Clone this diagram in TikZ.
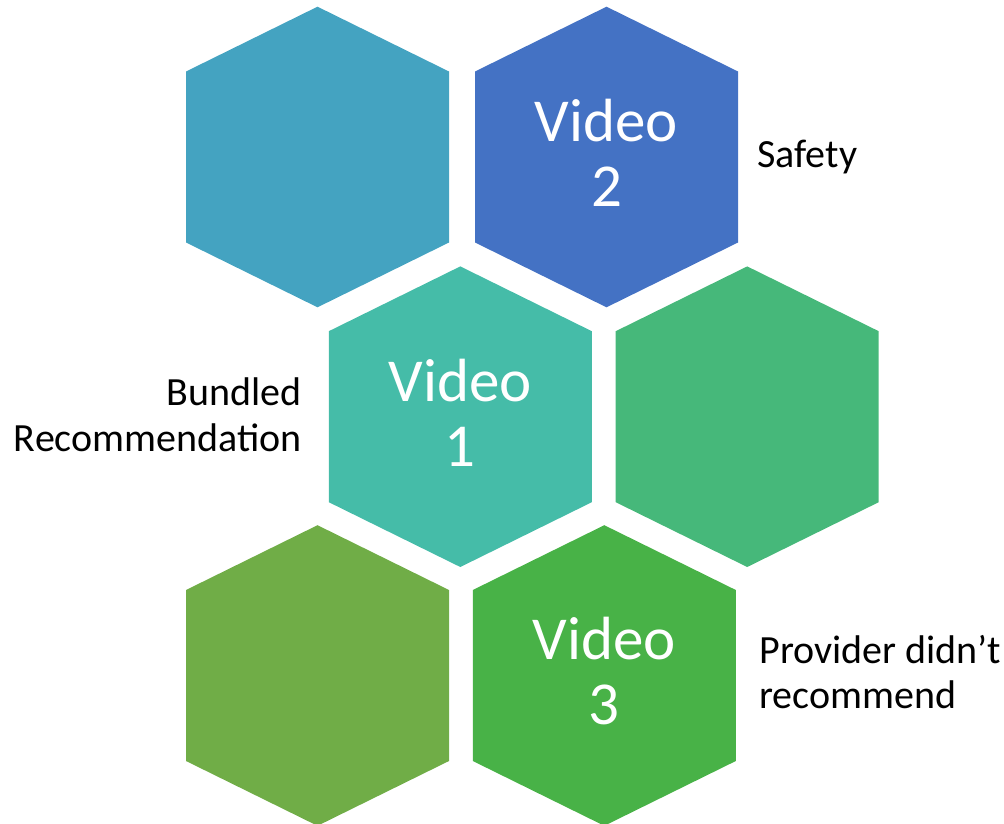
\documentclass[tikz,border=0pt]{standalone}
\usepackage{fontspec}
\setmainfont{Carlito}
\usepackage{tikz}

\definecolor{hexteal}{RGB}{68,163,193}
\definecolor{hexblue}{RGB}{68,114,196}
\definecolor{hexaqua}{RGB}{69,188,168}
\definecolor{hexmint}{RGB}{70,184,122}
\definecolor{hexolive}{RGB}{112,173,71}
\definecolor{hexgreen}{RGB}{72,178,71}

\tikzset{
  hexcell/.pic={\fill (0,-150.3) -- (131.5,-85.5) -- (131.5,85.5) -- (0,150.3)
    -- (-131.5,85.5) -- (-131.5,-85.5) -- cycle;},
  videolabel/.style={text=white, align=center, inner sep=0pt,
    font=\fontsize{30.5}{32.5}\selectfont},
  sidelabel/.style={text=black, inner sep=0pt,
    font=\fontsize{20}{22.8}\selectfont}
}

\begin{document}
\begin{tikzpicture}[x=0.5pt, y=-0.5pt]
  \useasboundingbox (0,0) rectangle (1004,823);
  \coordinate (h1) at (317.5,157);
  \coordinate (h2) at (606.5,157);
  \coordinate (h3) at (460.3,416.7);
  \coordinate (h4) at (747.2,416.7);
  \coordinate (h5) at (317.5,675.5);
  \coordinate (h6) at (604.3,675.5);
  \pic[color=hexteal] at (h1) {hexcell};
  \pic[color=hexblue] at (h2) {hexcell};
  \pic[color=hexaqua] at (h3) {hexcell};
  \pic[color=hexmint] at (h4) {hexcell};
  \pic[color=hexolive] at (h5) {hexcell};
  \pic[color=hexgreen] at (h6) {hexcell};
  \node[videolabel, yshift=2] (v2) at (h2) {Video\\2};
  \node[videolabel, yshift=2] (v1) at (h3) {Video\\1};
  \node[videolabel, yshift=2] (v3) at (h6) {Video\\3};
  \node[sidelabel, anchor=west] (safety) at (757,157) {Safety};
  \node[sidelabel, anchor=east, align=right] (bundled) at (302,415) {Bundled\\Recommendation};
  \node[sidelabel, anchor=west, align=left] (provider) at (759,672) {Provider didn’t\\recommend};
\end{tikzpicture}
\end{document}
